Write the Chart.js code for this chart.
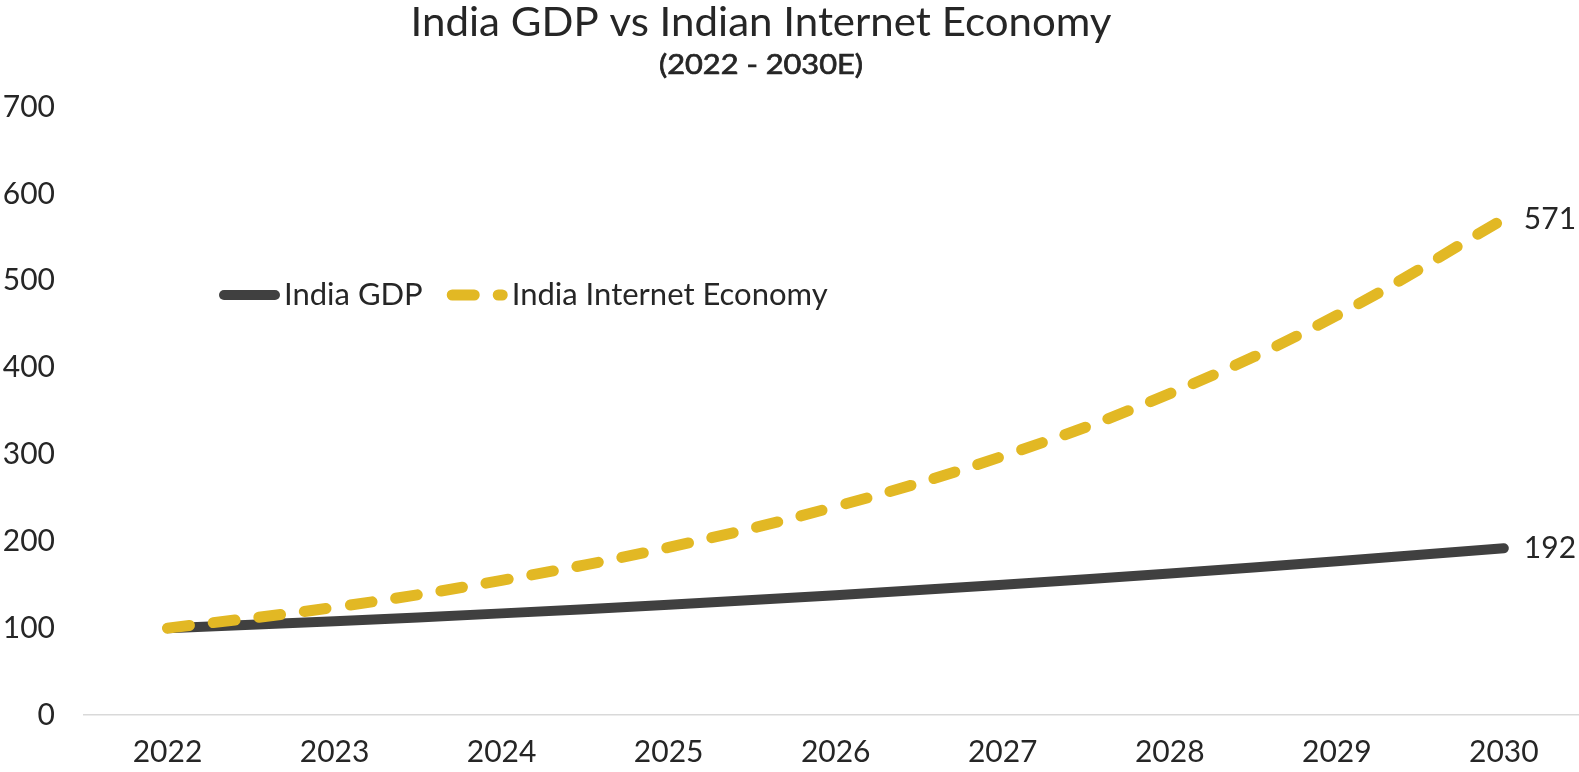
<!DOCTYPE html>
<html>
<head>
<meta charset="utf-8">
<script src="https://cdn.jsdelivr.net/npm/chart.js@4/dist/chart.umd.min.js"></script>
<style>
  html, body { margin: 0; padding: 0; background: #ffffff; }
  #wrap { width: 1579px; height: 772px; position: relative; }
</style>
</head>
<body>
<div id="wrap"><canvas id="c" width="1579" height="772"></canvas></div>
<script>
// ---- data ----
const years = [2022, 2023, 2024, 2025, 2026, 2027, 2028, 2029, 2030];
const indiaGDP = [100, 108, 117, 127, 138, 150, 163, 177, 192];
const internetEconomy = [100, 124, 155, 193, 240, 298, 370, 460, 571];
const yTicks = [0, 100, 200, 300, 400, 500, 600, 700];
const seriesNames = ['India GDP', 'India Internet Economy'];
const titleText = 'India GDP vs Indian Internet Economy';
const subtitleText = '(2022 - 2030E)';

const FONT = 'Lato, "Open Sans", sans-serif';
const TEXT = '#262626';
const GDP_COLOR = '#404040';
const NET_COLOR = '#E2B824';

const toPts = (vals) => vals.map((v, i) => ({ x: years[i], y: v }));

// title + subtitle (real text, fitted to the reference's width)
const titles = {
  id: 'titles',
  afterDraw(chart) {
    const ctx = chart.ctx;
    const cx = 761;
    const draw = (txt, font, y, targetW, strokeW) => {
      ctx.save();
      ctx.font = font;
      ctx.fillStyle = TEXT;
      ctx.strokeStyle = TEXT;
      ctx.textAlign = 'center';
      ctx.textBaseline = 'alphabetic';
      const w = ctx.measureText(txt).width;
      const s = targetW / w;
      ctx.translate(cx, y);
      ctx.scale(s, 1);
      ctx.fillText(txt, 0, 0);
      if (strokeW) { ctx.lineWidth = strokeW; ctx.strokeText(txt, 0, 0); }
      ctx.restore();
    };
    draw(titleText, '40px ' + FONT, 36, 701, 0);
    draw(subtitleText, '27px ' + FONT, 74, 204, 0.7);
  }
};

// custom legend drawn inside plot area
const insideLegend = {
  id: 'insideLegend',
  afterDraw(chart) {
    const ctx = chart.ctx;
    const y = 295;
    let x = 219;
    const sampleW = 61;
    ctx.save();
    ctx.font = '31px ' + FONT;
    ctx.textBaseline = 'middle';
    ctx.textAlign = 'left';
    const items = [chart.data.datasets[1], chart.data.datasets[0]];
    items.forEach((ds) => {
      ctx.save();
      ctx.strokeStyle = ds.borderColor;
      ctx.lineWidth = ds.borderWidth;
      ctx.lineCap = 'round';
      ctx.setLineDash(ds.borderDash || []);
      ctx.beginPath();
      const half = ds.borderWidth / 2;
      ctx.moveTo(x + half, y);
      ctx.lineTo(x + sampleW - half, y);
      ctx.stroke();
      ctx.restore();
      ctx.fillStyle = TEXT;
      ctx.fillText(ds.label, x + sampleW + 4, y);
      x += sampleW + 4 + ctx.measureText(ds.label).width + 24;
    });
    ctx.restore();
  }
};

// end-of-line value labels
const endLabels = {
  id: 'endLabels',
  afterDatasetsDraw(chart) {
    const ctx = chart.ctx;
    ctx.save();
    ctx.font = '30px ' + FONT;
    ctx.fillStyle = TEXT;
    ctx.textBaseline = 'middle';
    ctx.textAlign = 'left';
    chart.data.datasets.forEach((ds, i) => {
      const meta = chart.getDatasetMeta(i);
      const last = meta.data[meta.data.length - 1];
      const val = ds.data[ds.data.length - 1].y;
      ctx.fillText(String(val), last.x + 20, last.y);
    });
    ctx.restore();
  }
};

new Chart(document.getElementById('c'), {
  type: 'line',
  data: {
    datasets: [
      {
        label: seriesNames[1],
        data: toPts(internetEconomy),
        borderColor: NET_COLOR,
        borderWidth: 11,
        borderDash: [22, 24],
        borderCapStyle: 'round',
        tension: 0.4,
        pointRadius: 0,
        fill: false,
        order: 0
      },
      {
        label: seriesNames[0],
        data: toPts(indiaGDP),
        borderColor: GDP_COLOR,
        borderWidth: 10,
        borderCapStyle: 'round',
        tension: 0.4,
        pointRadius: 0,
        fill: false,
        order: 1
      }
    ]
  },
  options: {
    responsive: false,
    animation: false,
    devicePixelRatio: 1,
    layout: { padding: { left: 0, right: 0, top: 107, bottom: 0 } },
    plugins: {
      legend: { display: false },
      tooltip: { enabled: false },
      title: { display: false },
      subtitle: { display: false }
    },
    scales: {
      x: {
        type: 'linear',
        min: 2021.5,
        max: 2030.45,
        afterBuildTicks: (scale) => { scale.ticks = years.map(v => ({ value: v })); },
        afterFit: (scale) => { scale.height = 57; },
        grid: { display: false, drawTicks: false },
        border: { display: true, color: '#D9D9D9', width: 1.5 },
        ticks: {
          color: TEXT,
          font: { family: FONT, size: 30 },
          padding: 19,
          maxRotation: 0,
          autoSkip: false,
          callback: (v) => String(v)
        }
      },
      y: {
        type: 'linear',
        min: 0,
        max: 700,
        afterBuildTicks: (scale) => { scale.ticks = yTicks.map(v => ({ value: v })); },
        afterFit: (scale) => { scale.width = 84; },
        grid: { display: false, drawTicks: false },
        border: { display: false },
        ticks: {
          color: TEXT,
          font: { family: FONT, size: 30 },
          padding: 29,
          callback: (v) => String(v)
        }
      }
    }
  },
  plugins: [titles, insideLegend, endLabels]
});
</script>
</body>
</html>
